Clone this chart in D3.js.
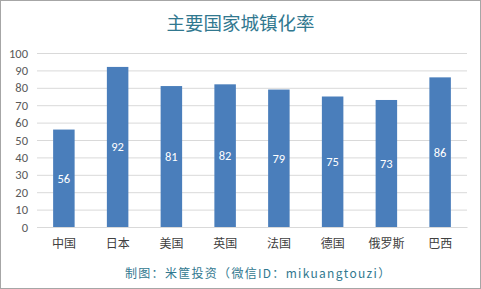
<!DOCTYPE html>
<html>
<head>
<meta charset="utf-8">
<script src="https://cdn.jsdelivr.net/npm/d3@7"></script>
<style>
  body { margin: 0; background: #fff; }
  svg { display: block; font-family: "Microsoft YaHei", "Noto Sans CJK SC", sans-serif; }
</style>
</head>
<body>
<div id="chart"></div>
<script>
// data
var countries = ["中国", "日本", "美国", "英国", "法国", "德国", "俄罗斯", "巴西"];
var rates = [56, 92, 81, 82, 79, 75, 73, 86];
var yTicks = [0, 10, 20, 30, 40, 50, 60, 70, 80, 90, 100];

var W = 481, H = 289;
var margin = {top: 53, right: 14, bottom: 62, left: 37};

var svg = d3.select("#chart").append("svg")
    .attr("width", W)
    .attr("height", H);

// outer frame
svg.append("rect")
    .attr("x", 0.5).attr("y", 0.5)
    .attr("width", W - 1).attr("height", H - 1)
    .style("fill", "#fff")
    .style("stroke", "#a6a6a6");

var x = d3.scaleBand()
    .domain(countries)
    .range([margin.left, W - margin.right])
    .paddingInner(0.6)
    .paddingOuter(0.3);

var y = d3.scaleLinear()
    .domain([0, 100])
    .range([H - margin.bottom, margin.top]);

// grid + y labels
var yAxis = svg.append("g")
    .attr("transform", "translate(" + margin.left + ",0)")
    .call(d3.axisLeft(y).tickValues(yTicks).tickSize(-(W - margin.left - margin.right)).tickPadding(9));
yAxis.select(".domain").remove();
yAxis.selectAll(".tick line").style("stroke", "#d9d9d9");
yAxis.selectAll(".tick text")
    .style("fill", "#595959")
    .style("font-size", "12.5px")
    .style("font-family", "Calibri, Carlito, 'Liberation Sans', sans-serif");

// bars
svg.append("g").selectAll("rect")
    .data(rates).enter().append("rect")
    .attr("x", function(d, i) { return x(countries[i]); })
    .attr("y", function(d) { return y(d); })
    .attr("width", x.bandwidth())
    .attr("height", function(d) { return y(0) - y(d); })
    .style("fill", "#4a7ebb");

// value labels in middle of bars
svg.append("g").selectAll("text")
    .data(rates).enter().append("text")
    .attr("x", function(d, i) { return x(countries[i]) + x.bandwidth() / 2; })
    .attr("y", function(d) { return (y(d) + y(0)) / 2; })
    .attr("dy", "0.35em")
    .attr("text-anchor", "middle")
    .style("fill", "#fff")
    .style("font-size", "12.5px")
    .style("font-family", "Calibri, Carlito, 'Liberation Sans', sans-serif")
    .text(function(d) { return d; });

// category labels
var xAxis = svg.append("g")
    .attr("transform", "translate(0," + y(0) + ")")
    .call(d3.axisBottom(x).tickSize(0).tickPadding(12));
xAxis.select(".domain").style("stroke", "#d9d9d9");
xAxis.selectAll(".tick text")
    .style("fill", "#404040")
    .style("font-size", "12px")
    .style("font-family", "'Noto Sans CJK SC', sans-serif");

// title
svg.append("text")
    .attr("x", W / 2)
    .attr("y", 30)
    .attr("text-anchor", "middle")
    .style("fill", "#31788f")
    .style("font-size", "18.5px")
    .text("主要国家城镇化率");

// source footer
svg.append("text")
    .attr("x", 125)
    .attr("y", 278)
    .style("fill", "#31788f")
    .style("font-size", "12px")
    .style("letter-spacing", "1.3px")
    .text("制图：米筐投资（微信ID：mikuangtouzi）");
</script>
</body>
</html>
